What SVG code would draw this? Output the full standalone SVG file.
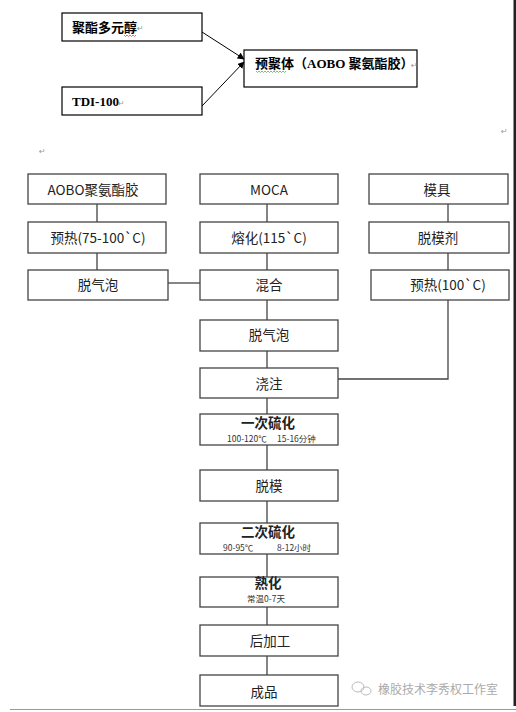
<svg xmlns="http://www.w3.org/2000/svg" width="516" height="712" viewBox="0 0 516 712">
<defs>
<marker id="ah" viewBox="0 0 10 10" refX="9" refY="5" markerWidth="7" markerHeight="7" orient="auto" markerUnits="userSpaceOnUse">
<path d="M0,0 L10,5 L0,10 z" fill="#000"/>
</marker>
<style>
.tb{fill:#fff;stroke:#000;stroke-width:1.2}
.fb{fill:#fff;stroke:#444;stroke-width:1.3}
.tt{font-family:"Liberation Serif","Noto Sans CJK SC",serif;font-weight:bold;font-size:13px;fill:#000}
.ft{font-family:"Noto Sans CJK SC","Noto Sans",sans-serif;font-size:13.5px;fill:#222;text-anchor:middle}
.fh{font-family:"Noto Sans CJK SC","Noto Sans",sans-serif;font-size:13.5px;font-weight:bold;fill:#222;text-anchor:middle}
.fs{font-family:"Noto Sans CJK SC","Noto Sans",sans-serif;font-size:8.5px;fill:#333}
.pm{font-family:"DejaVu Sans",sans-serif;font-size:8px;font-weight:normal;fill:#999}
.cn{stroke:#444;stroke-width:1.3;fill:none}
.wm{font-family:"Noto Sans CJK SC",sans-serif;font-size:12px;fill:#aaa}
</style>
</defs>
<rect width="516" height="712" fill="#fff"/>
<rect x="513.5" y="0" width="2.5" height="706" fill="#222"/>
<line x1="10" y1="709.5" x2="516" y2="709.5" stroke="#999" stroke-width="1.2"/>

<g id="n-polyester">
<rect class="tb" x="62" y="13" width="140" height="28"/>
<text class="tt" x="72" y="32">聚酯多元醇</text>
<path d="M124,35 l1.5,1.5 l1.5,-1.5 l1.5,1.5 l1.5,-1.5 l1.5,1.5 l1.5,-1.5 l1.5,1.5 l1.5,-1.5" stroke="#d33" stroke-width="0.7" fill="none"/>
<text class="pm" x="137" y="31">↵</text>
</g>
<g id="n-tdi">
<rect class="tb" x="62" y="87" width="140" height="28"/>
<text class="tt" x="72" y="106">TDI-100</text>
<text class="pm" x="118" y="106">↵</text>
</g>
<g id="n-prepolymer">
<rect class="tb" x="244" y="50" width="173" height="37"/>
<text class="tt" x="255" y="68" font-size="11">预聚体（AOBO 聚氨酯胶）</text>
<path d="M256,71 l1.5,1.5 l1.5,-1.5 l1.5,1.5 l1.5,-1.5 l1.5,1.5 l1.5,-1.5 l1.5,1.5 l1.5,-1.5 l1.5,1.5 l1.5,-1.5 l1.5,1.5 l1.5,-1.5 l1.5,1.5 l1.5,-1.5 l1.5,1.5 l1.5,-1.5 l1.5,1.5 l1.5,-1.5 l1.5,1.5 l1.5,-1.5" stroke="#3a3" stroke-width="0.7" fill="none"/>
<text class="pm" x="411" y="68">↵</text>
</g>
<text class="pm" x="501" y="134">↵</text>
<text class="pm" x="39" y="154">↵</text>

<g id="n-aobo"><rect class="fb" x="28" y="174" width="138" height="30"/><text class="ft" x="93" y="195">AOBO聚氨酯胶</text></g>
<g id="n-preheat1"><rect class="fb" x="28" y="222" width="138" height="31"/><text class="ft" x="98" y="243">预热(75-100`C)</text></g>
<g id="n-degas1"><rect class="fb" x="28" y="270" width="140" height="30"/><text class="ft" x="98" y="290">脱气泡</text></g>
<g id="n-moca"><rect class="fb" x="200" y="174" width="138" height="30"/><text class="ft" x="269" y="195">MOCA</text></g>
<g id="n-melt"><rect class="fb" x="200" y="222" width="138" height="31"/><text class="ft" x="269" y="243">熔化(115`C)</text></g>
<g id="n-mix"><rect class="fb" x="200" y="270" width="138" height="30"/><text class="ft" x="269" y="290">混合</text></g>
<g id="n-mold"><rect class="fb" x="369" y="174" width="139" height="30"/><text class="ft" x="437" y="195">模具</text></g>
<g id="n-release"><rect class="fb" x="369" y="222" width="140" height="31"/><text class="ft" x="438" y="243">脱模剂</text></g>
<g id="n-preheat2"><rect class="fb" x="371" y="270" width="138" height="30"/><text class="ft" x="448" y="290">预热(100`C)</text></g>
<g id="n-degas2"><rect class="fb" x="200" y="320" width="138" height="31"/><text class="ft" x="269" y="340">脱气泡</text></g>
<g id="n-pour"><rect class="fb" x="200" y="368" width="138" height="30"/><text class="ft" x="269" y="389">浇注</text></g>
<g id="n-cure1"><rect class="fb" x="200" y="414" width="138" height="31"/><text class="fh" x="268" y="428">一次硫化</text><text class="fs" x="227" y="442">100-120℃</text><text class="fs" x="277" y="442">15-16分钟</text></g>
<g id="n-demold"><rect class="fb" x="200" y="470" width="138" height="31"/><text class="ft" x="269" y="491">脱模</text></g>
<g id="n-cure2"><rect class="fb" x="200" y="523" width="138" height="31"/><text class="fh" x="268" y="537">二次硫化</text><text class="fs" x="223" y="551">90-95℃</text><text class="fs" x="277" y="551">8-12小时</text></g>
<g id="n-age"><rect class="fb" x="200" y="577" width="138" height="30"/><text class="fh" x="268" y="588">熟化</text><text class="fs" x="266" y="602" text-anchor="middle">常温0-7天</text></g>
<g id="n-post"><rect class="fb" x="200" y="625" width="138" height="31"/><text class="ft" x="270" y="646">后加工</text></g>
<g id="n-product"><rect class="fb" x="200" y="675" width="138" height="31"/><text class="ft" x="264" y="697">成品</text></g>

<g id="watermark">
<ellipse cx="358" cy="687" rx="6" ry="5" fill="none" stroke="#bbb" stroke-width="1"/>
<ellipse cx="366" cy="691" rx="5" ry="4" fill="none" stroke="#bbb" stroke-width="1"/>
<text class="wm" x="378" y="694">橡胶技术李秀权工作室</text>
</g>

<g id="connectors">
<line x1="202" y1="32" x2="244" y2="59" stroke="#000" stroke-width="1" marker-end="url(#ah)"/>
<line x1="202" y1="106" x2="244" y2="62" stroke="#000" stroke-width="1" marker-end="url(#ah)"/>
<path class="cn" d="M97,204 V222 M97,253 V270"/>
<path class="cn" d="M168,283 H200"/>
<path class="cn" d="M267,204 V222 M267,253 V270 M267,300 V320 M267,351 V368 M267,398 V414 M267,445 V470 M267,501 V523 M267,554 V577 M267,607 V625 M267,656 V675"/>
<path class="cn" d="M448,204 V222 M448,253 V270 M448,300 V379 H338"/>
</g>
</svg>
